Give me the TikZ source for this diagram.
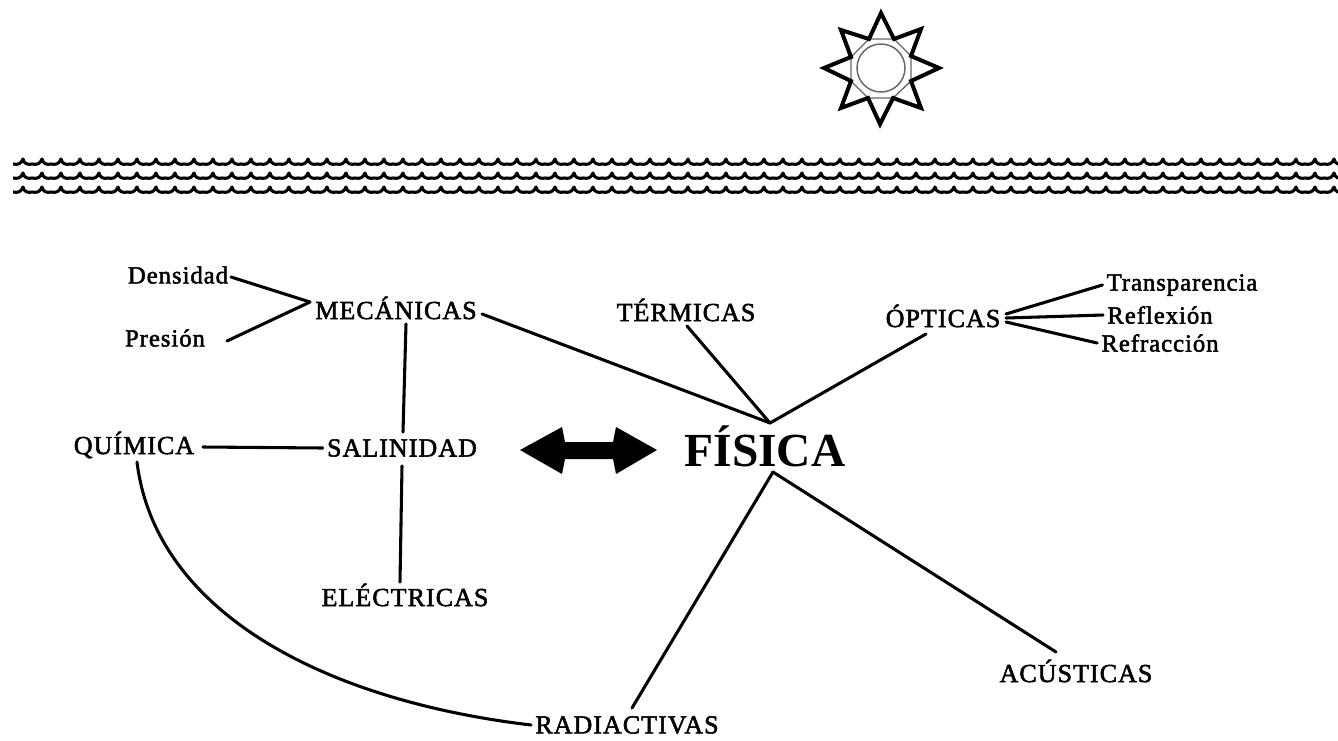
\documentclass[tikz,border=0pt]{standalone}
\usepackage{fontspec}
\setmainfont{Liberation Serif}
\newfontfamily\fakeb[FakeBold=2,LetterSpace=4]{Liberation Serif}
\usetikzlibrary{calc}
\tikzset{
  x=0.75pt,y=-0.75pt,
  lin/.style={line width=2.3pt,black,line cap=round},
  small/.style={font=\fakeb\fontsize{18.5}{21}\selectfont,inner sep=3pt,anchor=center},
  mid/.style={font=\fakeb\fontsize{19.5}{21}\selectfont,inner sep=3pt,anchor=center},
  big/.style={font=\bfseries\fontsize{35.6}{38}\selectfont,inner sep=0pt,anchor=center},
  wave/.style={line width=2.3pt,black,line join=round},
}
\begin{document}
\begin{tikzpicture}
\useasboundingbox (0,0) rectangle (1338,740);
% sun
\draw[line width=1pt,black!60] (869,39) -- (894,39) -- (911,56) -- (911,81) -- (893,98) -- (868,98) -- (851,81) -- (851,57) -- cycle;
\fill[white] (881,68) circle (25);
\draw[line width=1.1pt,black!60] (881,68) circle (24);
\draw[line width=3pt,line join=miter,miter limit=6]
 (881,13) -- (869,39) -- (841,30) -- (851,57) -- (824,68) -- (851,81) -- (841,108) -- (868,98)
 -- (880,124) -- (893,98) -- (921,108) -- (911,81) -- (939,68) -- (911,56) -- (921,29) -- (894,39) -- cycle;
% waves
\foreach \yy in {162,176,190}{
  \foreach \k in {0,...,69}{
    \pgfmathsetmacro\xa{13+\k*19}
    \pgfmathsetmacro\xb{\xa+19}
    \draw[wave] (\xa,\yy+2) .. controls (\xa+5,\yy+3) and (\xa+8,\yy+2) .. (\xa+10,\yy-3) .. controls (\xa+11,\yy+2) and (\xa+15,\yy+3) .. (\xb,\yy+2);
  }
}
\path[fill=white] (-2,150) rectangle (13,200);
\path[fill=white] (1338,150) rectangle (1345,200);
% nodes
\node[small] (dens) at (178,275) {Densidad};
\node[small] (pres) at (165,338) {Presión};
\node[mid] (mec) at (396,308) {MECÁNICAS};
\node[mid] (ter) at (686,310) {TÉRMICAS};
\node[mid] (opt) at (943,316) {ÓPTICAS};
\node[small] (tra) at (1182,285) {Transparencia};
\node[small] (ref) at (1160,315) {Reflexión};
\node[small] (rfr) at (1160,343) {Refracción};
\node[mid] (qui) at (134,445) {QUÍMICA};
\node[mid] (sal) at (402,448) {SALINIDAD};
\node[big] (fis) at (765,446) {FÍSICA};
\node[mid] (ele) at (405,595) {ELÉCTRICAS};
\node[mid] (acu) at (1076,671) {ACÚSTICAS};
\node[mid] (rad) at (627,725) {RADIACTIVAS};
% named ends
\coordinate (ftop) at (770,423);
\coordinate (fbot) at (773,472);
\coordinate (opta) at (1006,314);
\coordinate (optb) at (1006,318);
\coordinate (optc) at (1006,322);
\coordinate (mecs) at (406,324);
\coordinate (salt) at (403,432);
\coordinate (sals) at (402,466);
\coordinate (eleT) at (400,582);
\coordinate (terS) at (687,326);
\coordinate (optS) at (926,334);
\coordinate (acuT) at (1056,652);
\coordinate (radT) at (632,708);
\coordinate (quiS) at (137,462);
\coordinate (mecE) at (482,314);
\coordinate (mecW) at (310,302);
\coordinate (presE) at (227,341);
\coordinate (densE) at (231,277);
\coordinate (quiE) at (203,447);
% connectors
\draw[lin] (densE) -- (mecW);
\draw[lin] (presE) -- (mecW);
\draw[lin] (mecE) -- (ftop);
\draw[lin] (terS) -- (ftop);
\draw[lin] (optS) -- (ftop);
\draw[lin] (opta) -- (tra.west);
\draw[lin] (optb) -- (ref.west);
\draw[lin] (optc) -- (rfr.west);
\draw[lin] (mecs) -- (salt);
\draw[lin] (sals) -- (eleT);
\draw[lin] (quiE) -- (sal.west);
\draw[lin] (fbot) -- (radT);
\draw[lin] (fbot) -- (acuT);
\draw[lin] (quiS) .. controls (155,610) and (320,700) .. (rad.west);
% double arrow
\fill (520,450) -- (562,427) -- (565,442) -- (613,442) -- (616,427) -- (657,450) -- (616,474) -- (613,459) -- (565,459) -- (562,474) -- cycle;
\end{tikzpicture}
\end{document}
